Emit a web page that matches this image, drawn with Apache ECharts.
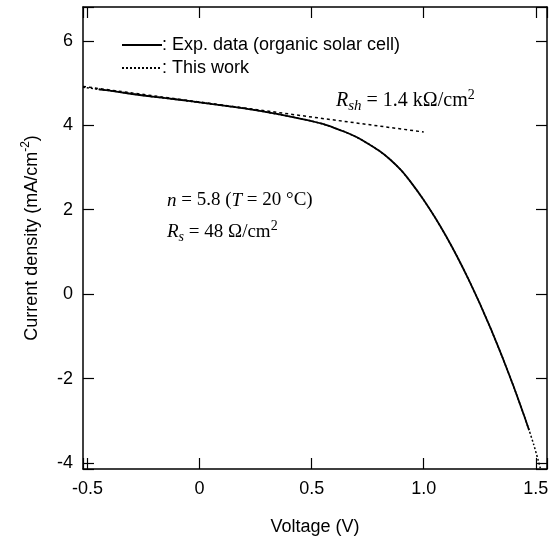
<!DOCTYPE html>
<html>
<head>
<meta charset="utf-8">
<script src="https://cdn.jsdelivr.net/npm/echarts@6/dist/echarts.min.js"></script>
<style>
  html, body {margin: 0; padding: 0; background: #fff;}
  #chart {width: 554px; height: 541px;}
</style>
</head>
<body>
<div id="chart"></div>
<script>
// experimental J-V curve (V, mA/cm2)
let expVoltage = [-0.45, -0.4, -0.3, -0.2, -0.1, 0, 0.1, 0.2, 0.3, 0.4, 0.5, 0.55, 0.6, 0.65, 0.7, 0.75, 0.8, 0.85, 0.9, 0.95, 1.0, 1.05, 1.1, 1.15, 1.2, 1.25, 1.3, 1.35, 1.4, 1.45, 1.47];
let expCurrent = [4.85, 4.82, 4.74, 4.67, 4.61, 4.54, 4.47, 4.40, 4.31, 4.21, 4.10, 4.03, 3.94, 3.84, 3.72, 3.57, 3.40, 3.19, 2.93, 2.60, 2.23, 1.82, 1.37, 0.88, 0.35, -0.22, -0.83, -1.48, -2.17, -2.91, -3.22];

// model curve (this work)
let modelVoltage = [-0.52, -0.45, -0.4, -0.3, -0.2, -0.1, 0, 0.1, 0.2, 0.3, 0.4, 0.5, 0.55, 0.6, 0.65, 0.7, 0.75, 0.8, 0.85, 0.9, 0.95, 1.0, 1.05, 1.1, 1.15, 1.2, 1.25, 1.3, 1.35, 1.4, 1.45, 1.47, 1.49, 1.51, 1.52];
let modelCurrent = [4.90, 4.85, 4.82, 4.74, 4.67, 4.61, 4.54, 4.47, 4.40, 4.31, 4.21, 4.10, 4.03, 3.94, 3.84, 3.72, 3.57, 3.40, 3.19, 2.93, 2.60, 2.23, 1.82, 1.37, 0.88, 0.35, -0.22, -0.83, -1.48, -2.17, -2.91, -3.22, -3.55, -3.92, -4.12];

// shunt resistance line
let rshVoltage = [-0.52, 1.0];
let rshCurrent = [4.92, 3.84];

let legendNames = ['Exp. data (organic solar cell)', 'This work'];

let pairs = function (xs, ys) {
  return xs.map(function (x, i) {
    return [x, ys[i]];
  });
};

let font = 'Liberation Sans, Arial, sans-serif';
let serif = 'Liberation Serif, Times New Roman, serif';

let xLabel = function (v) {
  if (Math.abs(v * 2 - Math.round(v * 2)) > 1e-6) {
    return '';
  }
  return v === 0 ? '0' : v.toFixed(1);
};
let yLabel = function (v) {
  return Math.abs(v - Math.round(v)) > 1e-6 ? '' : String(Math.round(v));
};

let xBase = {
  type: 'value', min: -0.52, max: 1.55, splitNumber: 4,
  axisLine: {onZero: false, lineStyle: {color: '#000', width: 1.5}},
  axisTick: {inside: true, length: 11, lineStyle: {color: '#000', width: 1.2}},
  splitLine: {show: false}
};
let yBase = {
  type: 'value', min: -4.14, max: 6.8, splitNumber: 5,
  axisLine: {onZero: false, lineStyle: {color: '#000', width: 1.5}},
  axisTick: {inside: true, length: 11, lineStyle: {color: '#000', width: 1.2}},
  splitLine: {show: false}
};

let e1 = echarts.init(document.getElementById('chart'));
e1.setOption({
  animation: false,
  backgroundColor: '#fff',
  grid: {left: 83, right: 7, top: 7, bottom: 69},
  legend: {
    data: legendNames, orient: 'vertical', left: 116, top: 31,
    itemWidth: 40, itemHeight: 14, itemGap: 5,
    itemStyle: {opacity: 0},
    formatter: ': {name}',
    textStyle: {fontSize: 18, color: '#000', fontFamily: font, padding: [0, 0, 0, -5]}
  },
  xAxis: [
    Object.assign({}, xBase, {
      position: 'bottom',
      name: 'Voltage (V)', nameLocation: 'middle', nameGap: 49,
      nameTextStyle: {fontSize: 18, color: '#000', fontFamily: font},
      axisLabel: {formatter: xLabel, fontSize: 18, color: '#000', fontFamily: font, margin: 11}
    }),
    Object.assign({}, xBase, {position: 'top', axisLabel: {show: false}})
  ],
  yAxis: [
    Object.assign({}, yBase, {
      position: 'left',
      name: 'Current density (mA/cm{sup|-2})', nameLocation: 'middle', nameGap: 39,
      nameTextStyle: {
        fontSize: 18, color: '#000', fontFamily: font,
        rich: {sup: {fontSize: 12, fontFamily: font, color: '#000', padding: [0, 0, 12, 0]}}
      },
      axisLabel: {formatter: yLabel, fontSize: 18, color: '#000', fontFamily: font, margin: 10}
    }),
    Object.assign({}, yBase, {position: 'right', axisLabel: {show: false}})
  ],
  series: [
    {
      name: 'Rsh', type: 'line', data: pairs(rshVoltage, rshCurrent),
      showSymbol: false, symbol: 'none', silent: true,
      itemStyle: {color: '#000'},
      lineStyle: {color: '#000', width: 1.5, type: [3, 3]}
    },
    {
      name: 'This work', type: 'line', data: pairs(modelVoltage, modelCurrent),
      showSymbol: false, symbol: 'none', smooth: 0.2,
      itemStyle: {color: '#000'},
      lineStyle: {color: '#000', width: 1.5, type: [2, 2]}
    },
    {
      name: 'Exp. data (organic solar cell)', type: 'line', data: pairs(expVoltage, expCurrent),
      showSymbol: false, symbol: 'none', smooth: 0.2,
      itemStyle: {color: '#000'},
      lineStyle: {color: '#000', width: 1.8}
    }
  ],
  graphic: [
    {
      type: 'text', left: 336, top: 88,
      style: {
        text: '{i|R}{sub|sh}{n| = 1.4 kΩ/cm}{sup|2}',
        rich: {
          i: {fontSize: 20, fontFamily: serif, fontStyle: 'italic', fill: '#000'},
          sub: {fontSize: 15, fontFamily: serif, fontStyle: 'italic', fill: '#000', padding: [10, 0, 0, 0]},
          n: {fontSize: 20, fontFamily: serif, fill: '#000'},
          sup: {fontSize: 14, fontFamily: serif, fill: '#000', padding: [0, 0, 12, 0]}
        }
      }
    },
    {
      type: 'text', left: 167, top: 191,
      style: {
        text: '{i|n}{n| = 5.8 (}{i|T}{n| = 20 °C)}',
        rich: {
          i: {fontSize: 19, fontFamily: serif, fontStyle: 'italic', fill: '#000'},
          n: {fontSize: 19, fontFamily: serif, fill: '#000'}
        }
      }
    },
    {
      type: 'text', left: 167, top: 219,
      style: {
        text: '{i|R}{sub|s}{n| = 48 Ω/cm}{sup|2}',
        rich: {
          i: {fontSize: 19, fontFamily: serif, fontStyle: 'italic', fill: '#000'},
          sub: {fontSize: 14, fontFamily: serif, fontStyle: 'italic', fill: '#000', padding: [10, 0, 0, 0]},
          n: {fontSize: 19, fontFamily: serif, fill: '#000'},
          sup: {fontSize: 14, fontFamily: serif, fill: '#000', padding: [0, 0, 12, 0]}
        }
      }
    }
  ]
});
</script>
</body>
</html>
